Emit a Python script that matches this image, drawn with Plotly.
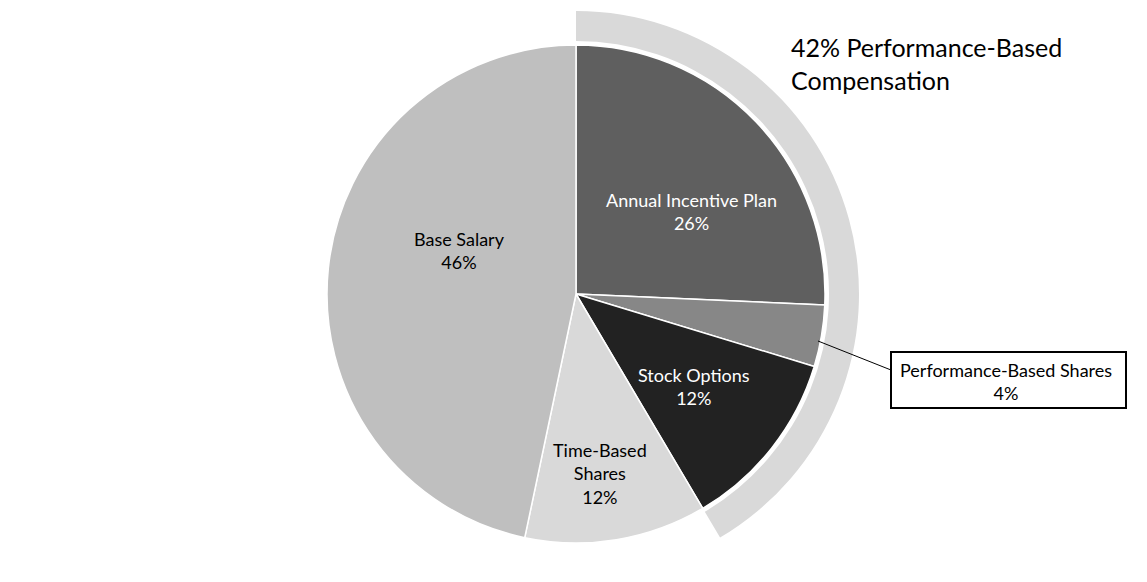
import plotly.graph_objects as go

W, H = 1147, 582

# Data
categories = ["Annual Incentive Plan", "Performance-Based Shares", "Stock Options",
              "Time-Based Shares", "Base Salary"]
values = [25.7, 4.0, 11.8, 11.8, 46.7]        # slice sizes as drawn
pct_labels = ["26%", "4%", "12%", "12%", "46%"]  # printed labels
colors = ["#5f5f5f", "#878787", "#222222", "#d9d9d9", "#bfbfbf"]
ring_labels = ["Performance-Based", "Other"]
ring_values = [41.5, 58.5]
title_text = "42% Performance-Based<br>Compensation"

cx, cy = 576, 294          # pie centre in pixels
r_pie, r_ring_out, r_ring_in = 249, 283, 253


def px(x):
    return x / W


def py(y):
    return 1 - y / H


def dom(r):
    return dict(x=[px(cx - r), px(cx + r)],
                y=[py(cy + r), py(cy - r)])


fig = go.Figure()

# Outer ring marking the performance-based share
fig.add_trace(go.Pie(
    labels=ring_labels, values=ring_values, sort=False, direction="clockwise",
    rotation=0, hole=r_ring_in / r_ring_out, domain=dom(r_ring_out),
    marker=dict(colors=["#d9d9d9", "rgba(0,0,0,0)"], line=dict(width=0)),
    textinfo="none", hoverinfo="skip", showlegend=False,
))

# Main pie
fig.add_trace(go.Pie(
    labels=categories, values=values, sort=False, direction="clockwise",
    rotation=0, domain=dom(r_pie),
    marker=dict(colors=colors, line=dict(color="white", width=1.5)),
    textinfo="none", showlegend=False,
))

font = "Lato, Calibri, Carlito, sans-serif"
annotations = []


def label(x, y, text, color):
    annotations.append(dict(x=px(x), y=py(y), xref="paper", yref="paper",
                            text=text, showarrow=False, align="center",
                            font=dict(family=font, size=18, color=color),
                            xanchor="center", yanchor="middle"))


label(691, 211, f"{categories[0]}<br>{pct_labels[0]}", "white")
label(459, 250, f"{categories[4]}<br>{pct_labels[4]}", "black")
label(694, 386, f"{categories[2]}<br>{pct_labels[2]}", "white")
label(600, 473, f"Time-Based<br>Shares<br>{pct_labels[3]}", "black")
label(1006, 381, f"{categories[1]}<br>{pct_labels[1]}", "black")

annotations.append(dict(x=px(789), y=py(63), xref="paper", yref="paper",
                        text=title_text, showarrow=False, align="left",
                        xanchor="left", yanchor="middle",
                        font=dict(family=font, size=25, color="black")))

shapes = [
    dict(type="rect", xref="paper", yref="paper",
         x0=px(891), x1=px(1126), y0=py(408), y1=py(352),
         line=dict(color="black", width=2), fillcolor="white"),
    dict(type="line", xref="paper", yref="paper",
         x0=px(818), y0=py(341), x1=px(891), y1=py(370),
         line=dict(color="black", width=1)),
]

fig.update_layout(
    width=W, height=H, margin=dict(l=0, r=0, t=0, b=0),
    paper_bgcolor="white", plot_bgcolor="white",
    annotations=annotations, shapes=shapes,
)

fig.write_html("out.html", config={"displayModeBar": False},
               post_script="document.body.style.margin='0px';"
                           "document.body.style.overflow='hidden';")
